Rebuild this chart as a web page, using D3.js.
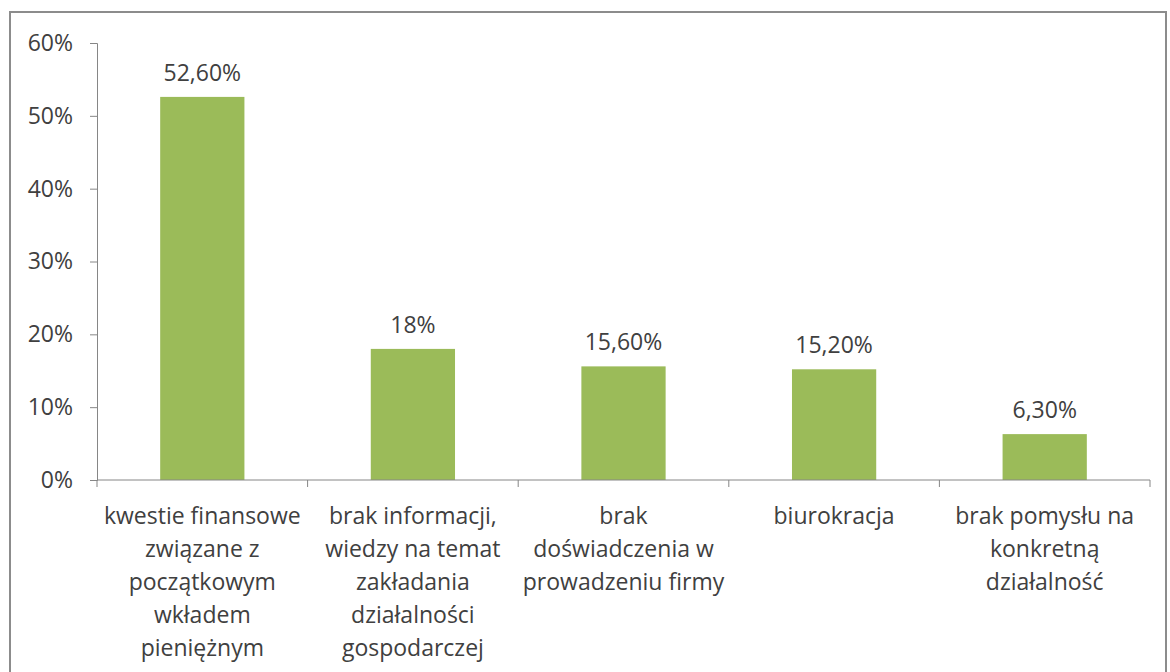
<!DOCTYPE html>
<html><head><meta charset="utf-8">
<script src="https://cdn.jsdelivr.net/npm/d3@7"></script>
<style>body{margin:0;background:#fff}svg{display:block}</style>
</head><body>
<script>
const categories = [
  "kwestie finansowe związane z początkowym wkładem pieniężnym",
  "brak informacji, wiedzy na temat zakładania działalności gospodarczej",
  "brak doświadczenia w prowadzeniu firmy",
  "biurokracja",
  "brak pomysłu na konkretną działalność"
];
const categoryLines = [
  ["kwestie finansowe","związane z","początkowym","wkładem","pieniężnym"],
  ["brak informacji,","wiedzy na temat","zakładania","działalności","gospodarczej"],
  ["brak","doświadczenia w","prowadzeniu firmy"],
  ["biurokracja"],
  ["brak pomysłu na","konkretną","działalność"]
];
const values = [52.6, 18, 15.6, 15.2, 6.3];
const valueLabels = ["52,60%","18%","15,60%","15,20%","6,30%"];
const yTicks = [0,10,20,30,40,50,60];

const W=1170,H=672;
const svg=d3.select("body").append("svg").attr("width",W).attr("height",H);
const font="'Open Sans', sans-serif";
const fs="23px";
const textColor="#404040", axisColor="#868686";

svg.append("rect").attr("x",10).attr("y",12).attr("width",1156).attr("height",700)
  .attr("fill","none").attr("stroke","#8c8c8c").attr("stroke-width",2);

const x=d3.scaleBand().domain(categories).range([97,1150]).paddingInner(0.6).paddingOuter(0.3);
const y=d3.scaleLinear().domain([0,60]).range([480,43]);

// y axis
const ya=svg.append("g").attr("transform","translate(97,0)")
  .call(d3.axisLeft(y).tickValues(yTicks).tickSize(7).tickFormat(d=>d+"%"));
ya.select(".domain").attr("stroke",axisColor);
ya.selectAll(".tick line").attr("stroke",axisColor);
ya.selectAll(".tick text").attr("x",-24).attr("fill",textColor).attr("font-size",fs).attr("font-family",font);

// bars
svg.selectAll("rect.bar").data(values).join("rect").attr("class","bar")
  .attr("x",(d,i)=>x(categories[i])).attr("width",x.bandwidth())
  .attr("y",d=>y(d)).attr("height",d=>y(0)-y(d)).attr("fill","#9BBB59");

// value labels
svg.selectAll("text.vl").data(values).join("text").attr("class","vl")
  .attr("x",(d,i)=>x(categories[i])+x.bandwidth()/2).attr("y",d=>y(d)-16)
  .attr("text-anchor","middle").attr("fill",textColor).attr("font-size",fs).attr("font-family",font)
  .text((d,i)=>valueLabels[i]);

// x axis
const step=x.step();
const xa=svg.append("g").attr("transform","translate(0,480)");
xa.append("line").attr("x1",97).attr("x2",1150).attr("stroke",axisColor);
const bounds=d3.range(categories.length+1).map(i=>97+i*step);
xa.selectAll("line.t").data(bounds).join("line").attr("class","t")
  .attr("x1",d=>d).attr("x2",d=>d).attr("y1",0).attr("y2",7).attr("stroke",axisColor);

const lab=svg.selectAll("text.cl").data(categories).join("text").attr("class","cl")
  .attr("text-anchor","middle").attr("fill",textColor).attr("font-size",fs).attr("font-family",font);
lab.each(function(c,i){
  const cx=x(c)+x.bandwidth()/2;
  d3.select(this).selectAll("tspan").data(categoryLines[i]).join("tspan")
    .attr("x",cx).attr("y",(d,j)=>524+j*33).text(d=>d);
});
</script>
</body></html>
